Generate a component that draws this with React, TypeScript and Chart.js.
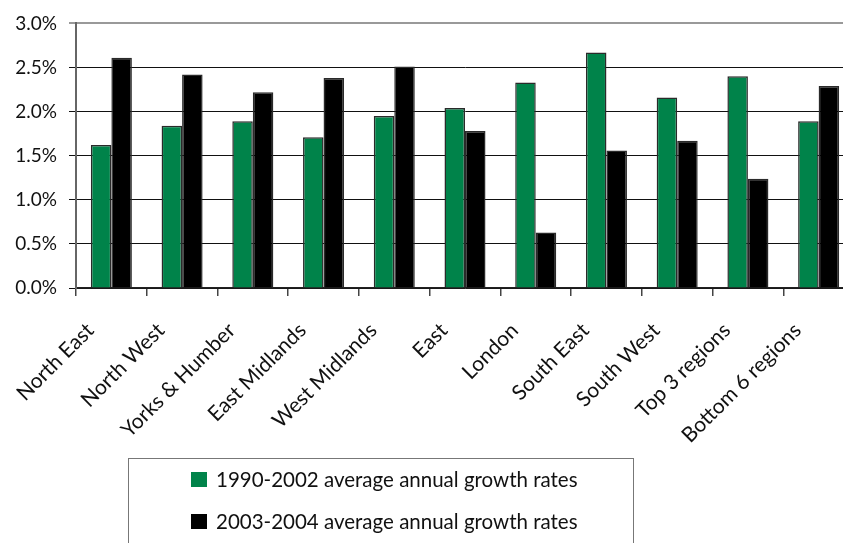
import React, { useEffect, useRef } from "react";
import { Chart, registerables } from "chart.js";

Chart.register(...registerables);

const categories = [
  "North East",
  "North West",
  "Yorks & Humber",
  "East Midlands",
  "West Midlands",
  "East",
  "London",
  "South East",
  "South West",
  "Top 3 regions",
  "Bottom 6 regions",
];
const series1990 = [1.62, 1.84, 1.89, 1.71, 1.95, 2.04, 2.33, 2.67, 2.16, 2.4, 1.89];
const series2003 = [2.61, 2.42, 2.22, 2.38, 2.51, 1.78, 0.63, 1.56, 1.67, 1.24, 2.29];
const seriesNames = [
  "1990-2002 average annual growth rates",
  "2003-2004 average annual growth rates",
];
const seriesColors = ["#00834A", "#000000"];
const yTicks = [0, 0.5, 1.0, 1.5, 2.0, 2.5, 3.0];

const FONT = "Lato, 'Open Sans', sans-serif";

export default function App() {
  const ref = useRef<HTMLCanvasElement | null>(null);

  useEffect(() => {
    if (!ref.current) return;
    const chart = new Chart(ref.current, {
      type: "bar",
      data: {
        labels: categories,
        datasets: [
          {
            label: seriesNames[0],
            data: series1990,
            backgroundColor: seriesColors[0],
            borderColor: "#2a2a2a",
            borderWidth: 1.5,
            barPercentage: 1,
            categoryPercentage: 0.58,
          },
          {
            label: seriesNames[1],
            data: series2003,
            backgroundColor: seriesColors[1],
            borderColor: "#2a2a2a",
            borderWidth: 1.5,
            barPercentage: 1,
            categoryPercentage: 0.58,
          },
        ],
      },
      options: {
        responsive: false,
        animation: false,
        devicePixelRatio: 1,
        layout: { padding: { top: 18, right: 6, left: 0, bottom: 0 } },
        plugins: {
          legend: { display: false },
          tooltip: { enabled: false },
        },
        scales: {
          x: {
            offset: true,
            grid: {
              offset: true,
              drawOnChartArea: false,
              drawTicks: true,
              tickLength: 8,
              color: "#444",
              lineWidth: 1.5,
            },
            border: { display: true, color: "#222", width: 1.5 },
            ticks: {
              minRotation: 45,
              maxRotation: 45,
              autoSkip: false,
              padding: 22,
              labelOffset: -21,
              color: "#111",
              font: { family: FONT, size: 21 },
            },
            afterFit: (scale: any) => {
              scale.height = 255;
            },
          },
          y: {
            min: 0,
            max: 3,
            afterBuildTicks: (scale: any) => {
              scale.ticks = yTicks.map((v) => ({ value: v }));
            },
            grid: {
              drawTicks: true,
              tickLength: 7,
              color: (ctx: any) => (ctx.tick && ctx.tick.value === 3 ? "#999" : "#111"),
              lineWidth: (ctx: any) => (ctx.tick && ctx.tick.value === 3 ? 2 : 1),
            },
            border: { display: true, color: "#666", width: 2 },
            ticks: {
              padding: 12,
              color: "#111",
              font: { family: FONT, size: 19 },
              callback: (v: any) => Number(v).toFixed(1) + "%",
            },
            afterFit: (scale: any) => {
              scale.width = 76;
            },
          },
        },
      },
    });
    return () => chart.destroy();
  }, []);

  return (
    <div
      style={{
        position: "absolute",
        left: 0,
        top: 0,
        width: 843,
        height: 543,
        overflow: "hidden",
        background: "#fff",
      }}
    >
      <canvas ref={ref} width={860} height={543} style={{ display: "block" }} />
      <div
        style={{
          position: "absolute",
          left: 128,
          top: 458,
          width: 506,
          height: 120,
          border: "1.5px solid #777",
          boxSizing: "border-box",
          fontFamily: FONT,
          fontSize: 20.5,
          color: "#111",
        }}
      >
        {seriesNames.map((name, i) => (
          <div
            key={name}
            style={{
              position: "absolute",
              left: 62,
              top: 7 + i * 42,
              height: 26,
              display: "flex",
              alignItems: "center",
              whiteSpace: "nowrap",
            }}
          >
            <span
              style={{
                display: "inline-block",
                width: 16,
                height: 15,
                background: seriesColors[i],
                marginRight: 9,
              }}
            />
            <span>{name}</span>
          </div>
        ))}
      </div>
    </div>
  );
}
